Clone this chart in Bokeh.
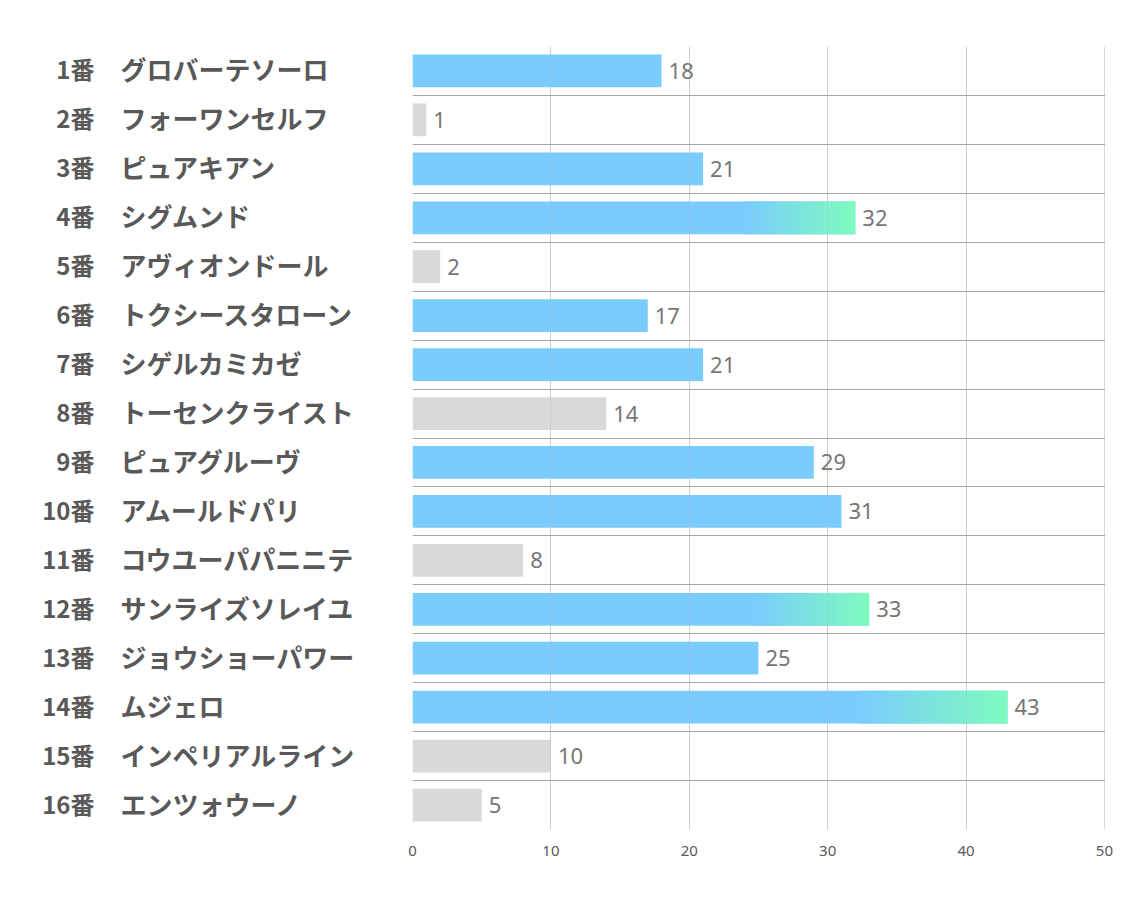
from bokeh.plotting import figure
from bokeh.models import ColumnDataSource, LabelSet, FixedTicker, Range1d, Grid
from bokeh.layouts import row
from bokeh.core.properties import value
from bokeh.embed import file_html
from bokeh.resources import INLINE

# ---- data ----
numbers = ["1番", "2番", "3番", "4番", "5番", "6番", "7番", "8番",
           "9番", "10番", "11番", "12番", "13番", "14番", "15番", "16番"]
names = ["グロバーテソーロ", "フォーワンセルフ", "ピュアキアン", "シグムンド",
         "アヴィオンドール", "トクシースタローン", "シゲルカミカゼ", "トーセンクライスト",
         "ピュアグルーヴ", "アムールドパリ", "コウユーパパニニテ", "サンライズソレイユ",
         "ジョウショーパワー", "ムジェロ", "インペリアルライン", "エンツォウーノ"]
values = [18, 1, 21, 32, 2, 17, 21, 14, 29, 31, 8, 33, 25, 43, 10, 5]
groups = ["blue", "gray", "blue", "grad", "gray", "blue", "blue", "gray",
          "blue", "blue", "gray", "grad", "blue", "grad", "gray", "gray"]
x_ticks = [0, 10, 20, 30, 40, 50]

# ---- style ----
BLUE = (122, 204, 253)
GREEN = (127, 251, 190)
GRAY = (217, 217, 217)
GRAD_START = 0.75
N_SLICES = 40
TOP, BOTTOM = 46, 78
LEFT_W = 402


def hexc(c):
    return "#%02x%02x%02x" % tuple(int(round(v)) for v in c)


pos = list(range(1, len(values) + 1))
n = len(values)

base_color = [hexc(GRAY) if g == "gray" else hexc(BLUE) for g in groups]

src = ColumnDataSource(dict(y=pos, right=values, color=base_color,
                            vlabel=[str(v) for v in values]))

gy, gl, gr, gc = [], [], [], []
for y, v, g in zip(pos, values, groups):
    if g != "grad":
        continue
    a = v * GRAD_START
    step = (v - a) / N_SLICES
    for i in range(N_SLICES):
        t = (i + 0.5) / N_SLICES
        col = tuple(BLUE[k] + (GREEN[k] - BLUE[k]) * t for k in range(3))
        gy.append(y)
        gl.append(a + i * step)
        gr.append(a + (i + 1) * step + (step * 0.4 if i < N_SLICES - 1 else 0))
        gc.append(hexc(col))
gsrc = ColumnDataSource(dict(y=gy, left=gl, right=gr, color=gc))

# ---- left label panel ----
lp = figure(width=LEFT_W, height=907, output_backend="svg", toolbar_location=None,
            x_range=Range1d(0, LEFT_W), y_range=Range1d(n + 0.5, 0.5),
            x_axis_location=None, y_axis_location=None,
            min_border_left=0, min_border_right=0,
            min_border_top=TOP, min_border_bottom=BOTTOM)
lp.outline_line_color = None
lp.grid.visible = False
lsrc = ColumnDataSource(dict(y=pos, num=numbers, name=names,
                             xn=[94] * n, xm=[120] * n))
lp.text(x="xn", y="y", text="num", source=lsrc, text_align="right",
        text_baseline="middle", text_font=value("Noto Sans CJK JP"),
        text_font_style="bold", text_font_size="24px", text_color="#595959",
        y_offset=-2)
lp.text(x="xm", y="y", text="name", source=lsrc, text_align="left",
        text_baseline="middle", text_font=value("Noto Sans CJK JP"),
        text_font_style="bold", text_font_size="26px", text_color="#595959",
        y_offset=-2)

# ---- chart ----
p = figure(width=1134 - LEFT_W, height=907, output_backend="svg", toolbar_location=None,
           x_range=Range1d(0, 50.08), y_range=lp.y_range,
           y_axis_location=None, min_border_left=412 - LEFT_W, min_border_right=29,
           min_border_top=TOP, min_border_bottom=BOTTOM)
p.outline_line_color = None

p.xgrid.ticker = FixedTicker(ticks=x_ticks)
p.xgrid.grid_line_color = "#d9d9d9"
p.ygrid.ticker = FixedTicker(ticks=[i + 0.5 for i in range(0, n + 1)])
p.ygrid.grid_line_color = "#a6a6a6"

p.hbar(y="y", left=0, right="right", height=0.67, fill_color="color",
       line_color=None, source=src)
p.hbar(y="y", left="left", right="right", height=0.67, fill_color="color",
       line_color=None, source=gsrc)

over = Grid(dimension=0, ticker=FixedTicker(ticks=x_ticks[1:-1]),
            grid_line_color="#b0b0b0", grid_line_alpha=0.25, level="overlay")
p.add_layout(over)

ax = p.xaxis[0]
ax.ticker = FixedTicker(ticks=x_ticks)
ax.axis_line_color = None
ax.major_tick_line_color = None
ax.minor_tick_line_color = None
ax.major_tick_out = 0
ax.major_tick_in = 0
ax.major_label_standoff = 16
ax.major_label_text_font = "Noto Sans"
ax.major_label_text_font_size = "15px"
ax.major_label_text_color = "#595959"

vl = LabelSet(x="right", y="y", text="vlabel", source=src, x_offset=7, y_offset=0,
              text_align="left", text_baseline="middle",
              text_font=value("Noto Sans"), text_font_size="22px",
              text_color="#767676")
p.add_layout(vl)

layout = row(lp, p)
open("out.html", "w").write(file_html(layout, INLINE))
